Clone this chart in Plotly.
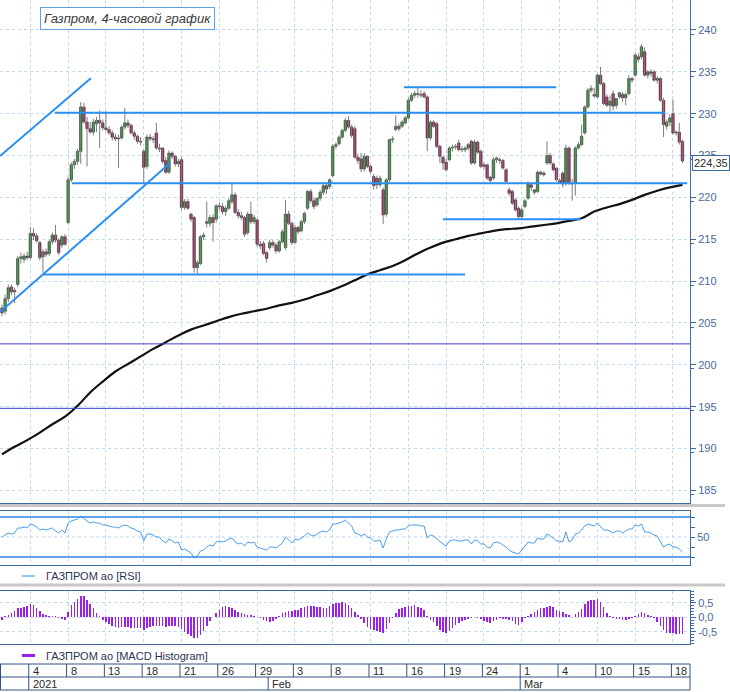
import plotly.graph_objects as go

# ---------------- data ----------------
opens = [206.8,206.4,207.9,209.3,208.7,209.6,212.7,212.6,213.0,212.8,215.7,215.4,214.6,212.9,213.5,213.3,214.7,215.5,214.9,214.3,
215.3,217.0,222.1,223.9,224.3,225.5,230.8,229.0,228.2,227.8,228.8,229.2,228.9,228.3,228.1,227.7,227.2,227.0,227.1,228.4,
228.9,228.6,227.7,227.3,226.7,225.5,223.7,227.2,227.0,227.7,225.9,225.9,224.4,223.0,225.3,224.9,224.0,224.5,218.8,219.5,
218.0,217.6,211.6,212.1,215.3,216.9,216.9,217.6,217.4,219.0,218.9,218.3,218.7,219.5,220.3,218.2,217.8,217.6,215.8,218.0,
217.1,217.3,214.4,214.5,213.4,214.0,214.6,214.3,213.6,214.7,214.0,218.0,216.9,214.6,216.4,216.0,217.1,218.7,220.7,219.6,
219.1,219.9,220.6,221.4,221.3,222.6,226.1,226.4,227.2,228.0,229.2,228.4,228.2,224.8,224.6,223.4,224.9,223.7,222.5,222.3,
221.5,220.9,218.0,222.1,226.9,228.1,228.5,228.5,228.9,229.5,231.6,232.2,232.4,232.3,232.4,232.0,227.1,229.0,228.8,226.1,
224.8,224.2,224.5,225.9,226.0,226.5,225.7,225.7,225.9,226.7,224.1,226.6,225.5,223.9,223.9,222.4,222.3,224.5,224.5,224.4,
223.3,220.9,220.7,219.7,218.7,217.7,218.9,219.9,221.5,220.6,220.7,223.0,222.9,224.1,225.0,224.0,223.5,222.0,222.9,221.7,
225.9,221.7,221.7,225.9,226.3,227.7,230.8,232.8,232.3,232.0,234.6,233.6,232.0,231.0,232.4,231.0,232.0,232.3,231.9,232.4,
234.2,234.6,236.8,236.8,237.4,234.6,235.0,235.0,234.0,234.2,231.6,228.5,229.0,230.0,227.7,227.8,226.7]
highs = [207.2,208.4,209.6,209.6,209.2,213.0,213.4,213.3,213.5,216.5,216.3,215.7,214.8,213.8,213.9,214.9,215.8,216.7,215.1,215.5,
215.6,222.4,224.2,224.6,225.8,231.4,231.3,229.6,229.0,229.4,229.6,230.4,229.3,230.3,228.5,228.0,227.6,227.5,228.6,230.7,
229.3,228.8,228.0,227.5,227.2,225.8,227.5,227.6,227.3,228.9,226.4,226.0,224.8,225.6,225.5,225.1,224.6,224.8,219.8,219.8,
218.2,217.8,212.5,215.5,215.8,219.5,217.9,218.0,219.2,219.4,219.3,219.0,219.9,221.8,220.6,218.6,218.3,217.8,218.3,219.5,
217.9,217.5,214.8,214.8,213.6,214.9,214.9,214.6,214.9,216.2,219.7,218.4,217.1,216.7,216.6,217.3,218.3,220.9,221.0,219.9,
220.0,220.9,221.8,221.6,222.3,226.4,226.6,227.4,228.2,229.5,229.7,228.7,228.5,225.2,225.3,225.3,225.0,223.9,222.8,222.6,
222.6,221.2,222.3,227.0,227.3,229.8,228.8,229.2,229.7,231.9,232.5,232.7,233.3,232.8,232.7,232.2,229.2,229.2,229.0,226.3,
225.0,224.6,226.1,226.3,226.4,226.9,226.1,226.1,226.5,226.9,226.9,226.8,225.7,224.2,224.0,222.6,224.8,224.9,224.8,224.6,
223.5,221.2,220.9,219.9,218.9,218.8,219.8,221.9,221.7,221.0,223.2,223.2,223.1,226.7,225.3,224.2,223.6,222.3,223.1,226.3,
226.1,222.2,226.1,226.6,228.7,231.0,233.1,233.4,233.1,234.8,235.6,233.8,232.3,232.2,232.8,231.9,232.6,232.6,232.5,234.6,
234.4,237.3,237.2,238.3,237.9,235.2,235.3,235.2,234.5,234.4,231.9,229.3,229.9,231.7,228.0,228.9,226.9]
lows = [205.8,206.0,207.5,208.3,207.4,209.3,212.1,212.2,212.5,212.6,214.9,214.6,212.5,211.0,212.9,213.0,214.4,214.6,213.1,214.0,
214.2,216.8,221.8,223.4,223.9,224.0,228.8,223.7,227.6,227.4,227.8,225.9,228.0,227.9,227.5,226.8,226.7,223.5,226.9,228.1,
228.3,227.5,226.9,226.4,226.2,221.8,223.4,226.7,226.5,225.7,225.4,224.0,222.8,222.8,224.6,223.7,223.6,218.5,218.5,218.5,
217.1,211.0,210.8,211.9,214.9,216.4,216.5,214.7,217.0,218.5,218.0,217.8,218.5,219.2,218.0,217.5,217.3,215.3,215.5,216.8,
216.8,214.1,213.8,213.1,212.2,213.7,214.0,213.3,213.4,214.5,213.7,216.7,214.3,214.4,215.6,215.8,216.8,218.5,219.3,218.6,
218.9,219.6,220.3,220.4,221.0,222.4,225.8,226.2,227.0,227.8,228.2,227.1,224.6,224.0,223.0,223.1,223.5,222.8,220.9,221.0,
221.2,216.8,217.7,221.8,226.5,227.9,227.9,228.3,228.7,229.3,231.4,231.9,231.9,231.9,231.8,225.5,226.8,228.3,225.9,224.1,
223.3,223.1,224.3,225.5,225.7,225.5,225.4,225.4,225.6,223.9,223.9,225.2,223.5,223.4,222.1,221.8,222.1,224.1,224.0,223.3,
221.7,220.2,219.1,218.3,217.4,217.3,218.7,219.7,220.8,220.3,220.5,222.6,222.5,223.9,223.9,223.1,221.9,221.6,221.2,221.4,
221.5,219.6,220.2,225.7,226.1,227.5,230.6,232.5,231.9,231.8,233.4,231.0,230.8,230.2,230.4,230.6,231.8,231.4,231.0,232.2,
233.7,234.4,236.1,236.5,234.4,234.2,234.4,233.8,233.6,231.4,227.2,228.1,228.5,227.5,227.4,226.3,224.1]
closes = [206.2,207.9,209.2,208.7,208.9,212.7,212.9,213.0,212.8,215.7,215.4,214.8,212.8,213.5,213.2,214.7,215.5,214.9,213.4,215.3,
214.4,222.1,223.9,224.3,225.5,230.8,229.0,228.2,227.8,229.0,229.2,228.9,228.3,228.1,227.7,227.2,227.0,227.1,228.4,228.9,
228.6,227.7,227.3,226.7,226.6,223.6,227.2,227.0,226.9,225.9,225.8,224.3,223.0,225.3,224.9,224.0,224.3,218.8,219.5,218.7,
217.4,211.6,212.2,215.3,215.5,217.1,217.6,217.0,219.0,218.9,218.3,218.7,219.6,220.3,218.2,217.8,217.6,215.6,218.0,217.1,
217.6,214.4,214.2,213.3,212.7,214.6,214.3,213.6,214.7,215.9,218.0,216.9,214.6,216.4,215.9,217.1,218.1,220.7,219.6,218.9,
219.9,220.6,221.4,221.0,222.1,226.1,226.3,227.2,228.0,229.2,228.4,227.4,224.8,224.4,223.4,224.9,223.7,223.1,221.4,221.5,
222.3,217.9,222.1,226.9,227.0,228.5,228.2,229.0,229.5,231.6,232.2,232.4,232.3,232.2,232.0,227.1,229.0,228.5,226.1,224.9,
224.1,223.3,225.9,226.0,226.1,225.7,225.7,225.9,226.3,224.1,226.6,225.4,223.7,223.7,222.3,222.0,224.5,224.7,224.4,223.5,
221.9,220.5,219.3,218.5,217.7,218.5,219.6,221.7,221.2,220.9,223.0,222.8,222.7,225.0,224.1,223.3,222.1,221.8,221.6,225.9,
221.8,221.6,225.9,226.3,227.3,230.8,232.8,233.0,232.1,234.6,233.6,231.2,231.0,231.5,230.9,231.8,232.5,231.9,232.3,234.2,
234.0,237.0,236.5,238.0,234.6,235.0,234.8,234.0,234.2,231.6,228.7,229.0,229.5,227.7,227.8,226.6,224.35]

rsi = [50,52,54,53,54,59,59,60,59,63,62,60,57,58,57,58,59,56,54,57,
54,64,66,67,68,71,68,66,64,65,64,64,62,62,61,60,60,59,61,62,
61,59,58,56,55,46,53,53,52,50,50,46,44,48,46,44,45,37,38,36,
34,29,31,36,37,40,42,41,45,46,45,46,48,49,45,43,44,41,45,44,
45,40,39,38,37,40,40,39,42,44,50,47,44,48,47,49,51,54,52,51,
53,55,56,55,57,63,63,64,65,67,64,61,54,53,51,53,50,49,46,46,
47,39,48,55,56,57,57,58,58,61,62,62,62,61,61,49,52,51,48,45,
43,41,46,47,47,46,46,47,47,43,47,46,43,43,40,39,44,45,44,42,
40,37,35,34,33,37,41,45,44,44,49,48,48,53,51,49,46,46,45,55,
45,47,53,54,57,61,63,62,61,64,60,57,57,56,54,56,56,54,56,58,
58,62,61,63,55,55,54,52,51,45,40,42,43,40,40,38,35]

macd = [-0.08,0.03,0.09,0.16,0.22,0.31,0.34,0.37,0.41,0.45,0.44,0.33,0.22,0.13,0.07,0.05,0.04,0.03,-0.04,-0.07,
-0.08,0.20,0.42,0.55,0.64,0.75,0.73,0.62,0.45,0.32,0.16,0.04,-0.08,-0.15,-0.25,-0.30,-0.34,-0.37,-0.35,-0.34,
-0.35,-0.36,-0.37,-0.37,-0.38,-0.44,-0.36,-0.33,-0.32,-0.31,-0.30,-0.31,-0.33,-0.30,-0.29,-0.31,-0.33,-0.42,-0.50,-0.57,
-0.64,-0.71,-0.73,-0.62,-0.47,-0.32,-0.12,0.02,0.15,0.27,0.35,0.38,0.37,0.33,0.25,0.20,0.14,0.10,0.08,0.07,
0.06,0.01,-0.03,-0.10,-0.14,-0.15,-0.12,-0.06,0.05,0.15,0.19,0.21,0.22,0.24,0.27,0.31,0.36,0.40,0.40,0.39,
0.37,0.36,0.33,0.31,0.38,0.45,0.49,0.51,0.52,0.49,0.42,0.31,0.20,0.09,-0.05,-0.20,-0.35,-0.39,-0.45,-0.49,
-0.52,-0.56,-0.42,-0.20,-0.03,0.14,0.29,0.33,0.36,0.39,0.41,0.43,0.36,0.31,0.27,0.04,-0.08,-0.18,-0.31,-0.43,
-0.50,-0.56,-0.46,-0.38,-0.28,-0.21,-0.14,-0.08,-0.05,-0.04,0.02,-0.01,-0.05,-0.12,-0.17,-0.21,-0.14,-0.08,-0.04,-0.05,
-0.07,-0.10,-0.14,-0.22,-0.27,-0.16,-0.04,0.06,0.10,0.18,0.26,0.31,0.34,0.37,0.41,0.35,0.26,0.21,0.17,0.13,
0.07,0.02,0.10,0.17,0.28,0.47,0.57,0.59,0.61,0.63,0.52,0.37,0.16,0.05,-0.02,-0.05,-0.07,-0.08,-0.09,-0.06,
-0.03,0.06,0.11,0.17,0.14,0.08,0.03,-0.04,-0.15,-0.29,-0.45,-0.53,-0.55,-0.56,-0.57,-0.58,-0.59]

# moving average, one reading per day (every 4th bar)
ma_step = 4
ma_vals = [189.3,190.2,191.0,191.9,192.9,193.8,195.1,196.7,198.0,199.2,200.1,201.0,201.9,202.7,203.5,204.2,204.7,205.2,205.7,
206.1,206.4,206.7,207.1,207.4,207.8,208.3,208.8,209.4,210.1,210.8,211.3,211.8,212.5,213.3,214.0,214.6,215.0,215.4,215.7,
216.0,216.2,216.3,216.5,216.7,216.9,217.2,217.5,218.3,218.8,219.2,219.7,220.3,220.8,221.2,221.5]

# date axis (bar index of first bar of the day)
day_idx = [9,21,33,45,57,69,81,93,105,117,129,141,153,165,177,189,201,213]
day_labels = ['4','8','13','18','21','26','29','3','8','11','16','19','24','1','4','10','15','18']
month_idx = [9,85,165]
month_labels = ['2021','Feb','Mar']

# drawn support / resistance levels: (price, start bar, end bar)
level_price = [230.1, 221.7, 210.8, 233.15, 217.4]
level_start = [16.8, 22.2, 13.0, 127.6, 140.0]
level_end = [210.5, 217.5, 147.0, 175.9, 183.8]
# trend channel lines: (bar0, price0, bar1, price1)
trend_x0 = [-0.63, -0.63]
trend_p0 = [224.95, 206.3]
trend_x1 = [28.2, 53.3]
trend_p1 = [234.23, 224.07]
thin_levels = [202.5, 194.8]
last_price = 224.35

# ---------------- figure ----------------
N = len(closes)
idx = list(range(N))
W, H = 730, 692
XR = [-0.63, 218.4]
XD = [0, 690 / W]

def py(px):
    return 1 - px / H

fig = go.Figure()

# wicks
wx, wy = [], []
for i in idx:
    wx += [i, i, None]
    wy += [lows[i], highs[i], None]
fig.add_trace(go.Scatter(x=wx, y=wy, mode='lines', line=dict(color='#7d7d7d', width=1),
                         hoverinfo='skip', showlegend=False, xaxis='x', yaxis='y'))
# bodies
base = [min(o, c) for o, c in zip(opens, closes)]
hgt = [max(abs(c - o), 0.08) for o, c in zip(opens, closes)]
cols = ['#1f9e2a' if c >= o else '#b3155e' for o, c in zip(opens, closes)]
fig.add_trace(go.Bar(x=idx, y=hgt, base=base, width=0.8, marker=dict(color=cols, line=dict(color='#1a1a1a', width=0.5)),
                     showlegend=False, xaxis='x', yaxis='y'))
# moving average
fig.add_trace(go.Scatter(x=idx[::ma_step], y=ma_vals, mode='lines', line=dict(color='#111111', width=2.2, shape='spline'),
                         showlegend=False, xaxis='x', yaxis='y'))
# RSI
fig.add_trace(go.Scatter(x=idx, y=rsi, mode='lines', line=dict(color='#4a9de8', width=1),
                         showlegend=False, xaxis='x2', yaxis='y2'))
# MACD histogram
fig.add_trace(go.Bar(x=idx, y=macd, width=0.5, marker=dict(color='#9b1fe8', line=dict(width=0)),
                     showlegend=False, xaxis='x3', yaxis='y3'))

shapes = []
LV = '#2a8ff2'
for p, a, b in zip(level_price, level_start, level_end):
    shapes.append(dict(type='line', xref='x', yref='y', x0=a, x1=b, y0=p, y1=p, line=dict(color=LV, width=2)))
for a, p0, b, p1 in zip(trend_x0, trend_p0, trend_x1, trend_p1):
    shapes.append(dict(type='line', xref='x', yref='y', x0=a, x1=b, y0=p0, y1=p1, line=dict(color=LV, width=2)))
for p in thin_levels:
    shapes.append(dict(type='line', xref='x domain', yref='y', x0=0, x1=1, y0=p, y1=p, line=dict(color='#3d3dd8', width=1)))
# RSI bands
for p in [70, 30]:
    shapes.append(dict(type='line', xref='x2 domain', yref='y2', x0=0, x1=1, y0=p, y1=p, line=dict(color='#2d86e0', width=1.5)))
shapes.append(dict(type='line', xref='x2 domain', yref='y2', x0=0, x1=1, y0=50, y1=50,
                   line=dict(color='#b9d5f2', width=1, dash='dot'), layer='below'))
# gray separators
for yy in [505.5, 585]:
    shapes.append(dict(type='line', xref='paper', yref='paper', x0=0, x1=725 / W, y0=py(yy), y1=py(yy),
                       line=dict(color='#c8c8c8', width=3)))
# legends' line samples
shapes.append(dict(type='line', xref='paper', yref='paper', x0=22 / W, x1=35 / W, y0=py(576), y1=py(576),
                   line=dict(color='#4a9de8', width=1.2)))
shapes.append(dict(type='line', xref='paper', yref='paper', x0=22 / W, x1=35 / W, y0=py(655.5), y1=py(655.5),
                   line=dict(color='#9b1fe8', width=3)))
# date table
TC = '#33527f'
for yy in [664, 677, 690]:
    shapes.append(dict(type='line', xref='paper', yref='paper', x0=0, x1=XD[1], y0=py(yy), y1=py(yy), line=dict(color=TC, width=1)))
for xx in [0.0007, XD[1]]:
    shapes.append(dict(type='line', xref='paper', yref='paper', x0=xx, x1=xx, y0=py(664), y1=py(690), line=dict(color=TC, width=1)))
for d in day_idx:
    shapes.append(dict(type='line', xref='x3', yref='paper', x0=d - 0.5, x1=d - 0.5, y0=py(664), y1=py(677), line=dict(color=TC, width=1)))
for m in month_idx:
    shapes.append(dict(type='line', xref='x3', yref='paper', x0=m - 0.5, x1=m - 0.5, y0=py(677), y1=py(690), line=dict(color=TC, width=1)))

ann = []
FONT = 'Liberation Sans'
for d, t in zip(day_idx, day_labels):
    ann.append(dict(x=d - 0.5, y=py(670.5), xref='x3', yref='paper', text=t, showarrow=False, xanchor='left', yanchor='middle',
                    xshift=2, font=dict(family=FONT, size=11, color='#2b2b2b')))
for m, t in zip(month_idx, month_labels):
    ann.append(dict(x=m - 0.5, y=py(683.5), xref='x3', yref='paper', text=t, showarrow=False, xanchor='left', yanchor='middle',
                    xshift=2, font=dict(family=FONT, size=11, color='#2b2b2b')))
ann.append(dict(x=44 / W, y=py(576), xref='paper', yref='paper', text='ГАЗПРОМ ао [RSI]', showarrow=False, xanchor='left',
                yanchor='middle', font=dict(family=FONT, size=11, color='#2a3550')))
ann.append(dict(x=44 / W, y=py(655.5), xref='paper', yref='paper', text='ГАЗПРОМ ао [MACD Histogram]', showarrow=False,
                xanchor='left', yanchor='middle', font=dict(family=FONT, size=11, color='#2a3550')))
ann.append(dict(x=127 / W, y=py(18.5), xref='paper', yref='paper', text='<i>Газпром, 4-часовой график</i>', showarrow=False,
                xanchor='center', yanchor='middle', font=dict(family=FONT, size=13, color='#3a3a3a'), bgcolor='white',
                bordercolor='#5ea0e0', borderwidth=1, borderpad=3))
ann.append(dict(x=692 / W, y=last_price, xref='paper', yref='y', text='224,35', showarrow=False, xanchor='left',
                yanchor='middle', yshift=-2, font=dict(family=FONT, size=11, color='#2b2b2b'), bgcolor='white',
                bordercolor='#3d6aa3', borderwidth=1, borderpad=1))

AX = '#3d6aa3'
GRID = '#c0d9f3'
xcommon = dict(domain=XD, range=XR, tickvals=day_idx, showticklabels=False, ticks='', showgrid=True, gridcolor=GRID,
               griddash='dot', zeroline=False, showline=True, mirror=True, linecolor=AX, linewidth=1, fixedrange=True)
tickfont = dict(family=FONT, size=11, color='#4a6a9a')

fig.update_layout(
    width=W, height=H, margin=dict(l=0, r=0, t=0, b=0), paper_bgcolor='white', plot_bgcolor='white',
    barmode='overlay', bargap=0, showlegend=False,
    xaxis=dict(anchor='y', **xcommon),
    xaxis2=dict(anchor='y2', **xcommon),
    xaxis3=dict(anchor='y3', **xcommon),
    yaxis=dict(domain=[py(503), 1.0], range=[183.49, 243.58], side='right', tickvals=list(range(185, 241, 5)),
               ticks='outside', ticklen=5, tickcolor=AX, tickfont=tickfont, showgrid=True, gridcolor=GRID, griddash='dot',
               zeroline=False, showline=True, linecolor=AX, mirror=True,
               minor=dict(tickvals=[x + 2.5 for x in range(182, 243, 5)], ticklen=3, tickcolor=AX, showgrid=False)),
    yaxis2=dict(domain=[py(565), py(511)], range=[22, 76], side='right', tickvals=[30, 40, 50, 60, 70],
                ticktext=['', '', '50', '', ''], ticks='outside', ticklen=4, tickcolor=AX, tickfont=tickfont,
                showgrid=False, zeroline=False, showline=True, linecolor=AX, mirror=True),
    yaxis3=dict(domain=[py(644), py(591)], range=[-0.93, 0.916], side='right', tickvals=[-0.5, 0, 0.5],
                ticktext=['-0,5', '0,0', '0,5'], ticks='outside', ticklen=5, tickcolor=AX, tickfont=tickfont,
                showgrid=True, gridcolor=GRID, griddash='dot', zeroline=False, showline=True, linecolor=AX, mirror=True,
                minor=dict(dtick=0.1, ticklen=3, tickcolor=AX, showgrid=False)),
    shapes=shapes, annotations=ann,
)

fig.write_html('out.html', config={'displayModeBar': False, 'staticPlot': True},
               post_script="document.body.style.margin='0px';document.body.style.overflow='hidden';")
